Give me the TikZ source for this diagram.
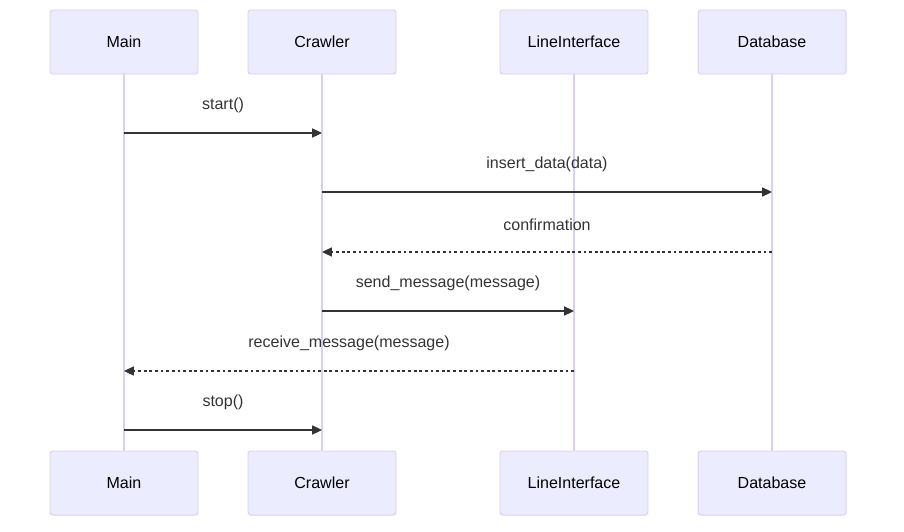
\documentclass[tikz,border=0pt]{standalone}
\usepackage{fontspec}
\setmainfont{Liberation Sans}
\usetikzlibrary{arrows.meta,positioning}
\definecolor{ActorFill}{RGB}{236,236,255}
\definecolor{ActorLine}{RGB}{218,206,243}
\definecolor{MsgGray}{RGB}{51,51,51}
\tikzset{
  actor/.style={draw=ActorLine,fill=ActorFill,line width=0.7pt,rounded corners=2pt,
    outer sep=0pt,minimum width=3.7cm,minimum height=1.6cm,align=center,
    font=\fontsize{11.4}{13}\selectfont},
  lifeline/.style={ActorLine,line width=1.1pt},
  msg/.style={-{Triangle[length=7pt,width=6.5pt]},line width=0.8pt,MsgGray},
  reply/.style={msg,dash pattern=on 2pt off 2pt},
  msglabel/.style={midway,yshift=0.69cm,text=MsgGray,
    font=\fontsize{11.4}{13}\selectfont}
}

\begin{document}
\begin{tikzpicture}[node distance=1.25cm]
      \useasboundingbox (0,0) rectangle (22.6,-13.275);
      % actors, top row
      \node[actor,anchor=north west] (mainTop) at (1.25,-0.25) {Main};
      \node[actor,right=of mainTop] (crawlerTop) {Crawler};
      \node[actor,right=2.6cm of crawlerTop] (lineTop) {LineInterface};
      \node[actor,right=of lineTop] (dbTop) {Database};
      % actors, bottom row
      \node[actor,below=9.425cm of mainTop] (mainBot) {Main};
      \node[actor,below=9.425cm of crawlerTop] (crawlerBot) {Crawler};
      \node[actor,below=9.425cm of lineTop] (lineBot) {LineInterface};
      \node[actor,below=9.425cm of dbTop] (dbBot) {Database};
      % lifelines
      \draw[lifeline] (mainTop) -- (mainBot);
      \draw[lifeline] (crawlerTop) -- (crawlerBot);
      \draw[lifeline] (lineTop) -- (lineBot);
      \draw[lifeline] (dbTop) -- (dbBot);
      % messages
      \draw[msg] (mainTop |- 0,-3.325) -- (crawlerTop |- 0,-3.325)
        node[msglabel] {start()};
      \draw[msg] (crawlerTop |- 0,-4.8) -- (dbTop |- 0,-4.8)
        node[msglabel] {insert\_data(data)};
      \draw[reply] (dbTop |- 0,-6.3) -- (crawlerTop |- 0,-6.3)
        node[msglabel] {confirmation};
      \draw[msg] (crawlerTop |- 0,-7.775) -- (lineTop |- 0,-7.775)
        node[msglabel] {send\_message(message)};
      \draw[reply] (lineTop |- 0,-9.275) -- (mainTop |- 0,-9.275)
        node[msglabel] {receive\_message(message)};
      \draw[msg] (mainTop |- 0,-10.75) -- (crawlerTop |- 0,-10.75)
        node[msglabel] {stop()};
    \end{tikzpicture}
\end{document}
